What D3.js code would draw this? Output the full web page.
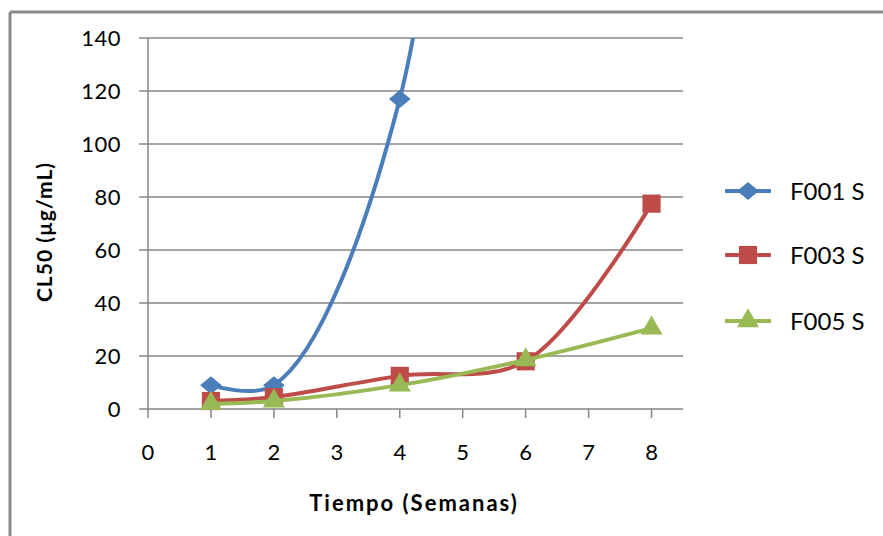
<!DOCTYPE html>
<html>
<head>
<meta charset="utf-8">
<script src="https://cdn.jsdelivr.net/npm/d3@7"></script>
<style>
  body { margin: 0; background: #fff; }
  text { font-family: Lato, "Open Sans", sans-serif; fill: #000; }
</style>
</head>
<body>
<div class="chart"></div>
<script>
// weeks on the x axis
const weeks = [1, 2, 4, 6, 8];
// CL50 values per series (F001 S goes off the top after week 4)
const f001 = [9, 9, 117, 650, null];
const f003 = [3, 4.5, 12.5, 18, 77.5];
const f005 = [2, 3, 9, 18.5, 30.5];
const seriesNames = ["F001 S", "F003 S", "F005 S"];
const xTicks = [0, 1, 2, 3, 4, 5, 6, 7, 8];
const yTicks = [0, 20, 40, 60, 80, 100, 120, 140];

const width = 883, height = 536;
const colors = ["#4a7ebb", "#be4b48", "#98b954"];

// excel-ish diamond: a bit wider than tall
const diamond = {
  draw(ctx, size) {
    const w = Math.sqrt(size) * 0.75, h = Math.sqrt(size) * 0.62;
    ctx.moveTo(0, -h); ctx.lineTo(w, 0); ctx.lineTo(0, h); ctx.lineTo(-w, 0); ctx.closePath();
  }
};
const symbols = [diamond, d3.symbolSquare, d3.symbolTriangle];
const symSize = [210, 330, 210];

const svg = d3.select(".chart").append("svg")
  .attr("width", width)
  .attr("height", height);

// outer frame (only top and left edges show)
svg.append("line").attr("x1", 10).attr("x2", width).attr("y1", 12).attr("y2", 12)
  .style("stroke", "#8a8a8a").style("stroke-width", 3);
svg.append("line").attr("x1", 10).attr("x2", 10).attr("y1", 12).attr("y2", height)
  .style("stroke", "#8a8a8a").style("stroke-width", 3);

const x = d3.scaleLinear().domain([0, 8.5]).range([148, 683]);
const y = d3.scaleLinear().domain([0, 140]).range([409, 38]);

// gridlines
svg.selectAll(".grid")
  .data(yTicks)
  .join("line")
  .attr("class", "grid")
  .attr("x1", 139).attr("x2", 683)
  .attr("y1", d => y(d)).attr("y2", d => y(d))
  .style("stroke", "#868686").style("stroke-width", 1.6);

// y axis line
svg.append("line").attr("x1", 148).attr("x2", 148).attr("y1", y(140)).attr("y2", y(0))
  .style("stroke", "#868686").style("stroke-width", 1.5);
// x tick marks
svg.selectAll(".xtick")
  .data(xTicks)
  .join("line")
  .attr("class", "xtick")
  .attr("x1", d => x(d)).attr("x2", d => x(d))
  .attr("y1", y(0)).attr("y2", y(0) + 9)
  .style("stroke", "#868686").style("stroke-width", 1.5);

svg.selectAll(".ylab")
  .data(yTicks)
  .join("text")
  .attr("class", "ylab")
  .attr("x", 121).attr("y", d => y(d))
  .attr("dy", "0.36em")
  .attr("text-anchor", "end")
  .style("font-size", "22px")
  .style("letter-spacing", "0.5px")
  .text(d => d);

svg.selectAll(".xlab")
  .data(xTicks)
  .join("text")
  .attr("class", "xlab")
  .attr("x", d => x(d)).attr("y", 452)
  .attr("dy", "0.36em")
  .attr("text-anchor", "middle")
  .style("font-size", "22px")
  .text(d => d);

svg.append("text")
  .attr("x", 414).attr("y", 503).attr("dy", "0.36em")
  .attr("text-anchor", "middle")
  .style("font-size", "22px").style("font-weight", "bold")
  .style("letter-spacing", "2px")
  .text("Tiempo (Semanas)");

svg.append("text")
  .attr("transform", "translate(44,232) rotate(-90)")
  .attr("dy", "0.36em")
  .attr("text-anchor", "middle")
  .style("font-size", "21px").style("font-weight", "bold")
  .style("letter-spacing", "1px")
  .text("CL50 (µg/mL)");

svg.append("clipPath").attr("id", "plotclip")
  .append("rect").attr("x", 130).attr("y", y(140)).attr("width", 570).attr("height", 400);

const allSeries = [f001, f003, f005].map((vals, i) => ({
  name: seriesNames[i],
  color: colors[i],
  symbol: symbols[i],
  size: symSize[i],
  points: weeks.map((w, j) => ({ x: w, y: vals[j] })).filter(p => p.y != null)
}));

const line = d3.line()
  .x(d => x(d.x))
  .y(d => y(d.y))
  .curve(d3.curveCatmullRom.alpha(0.5));

const plot = svg.append("g").attr("clip-path", "url(#plotclip)");

allSeries.forEach(s => {
  plot.append("path")
    .attr("d", line(s.points))
    .attr("fill", "none")
    .style("stroke", s.color)
    .style("stroke-width", 4);
  plot.selectAll(null)
    .data(s.points.filter(p => p.y <= 140))
    .join("path")
    .attr("transform", p => `translate(${x(p.x)},${y(p.y)})`)
    .attr("d", d3.symbol().type(s.symbol).size(s.size))
    .attr("fill", s.color);
});

// legend
const legendY = [191, 255, 321];
const legend = svg.selectAll(".legend")
  .data(allSeries)
  .join("g")
  .attr("class", "legend")
  .attr("transform", (d, i) => `translate(725,${legendY[i]})`);
legend.append("line")
  .attr("x1", 0).attr("x2", 46)
  .style("stroke", d => d.color).style("stroke-width", 4);
legend.append("path")
  .attr("transform", "translate(23,0)")
  .attr("d", d => d3.symbol().type(d.symbol).size(d.size)())
  .attr("fill", d => d.color);
legend.append("text")
  .attr("x", 65).attr("dy", "0.36em")
  .style("font-size", "24px")
  .text(d => d.name);
</script>
</body>
</html>
